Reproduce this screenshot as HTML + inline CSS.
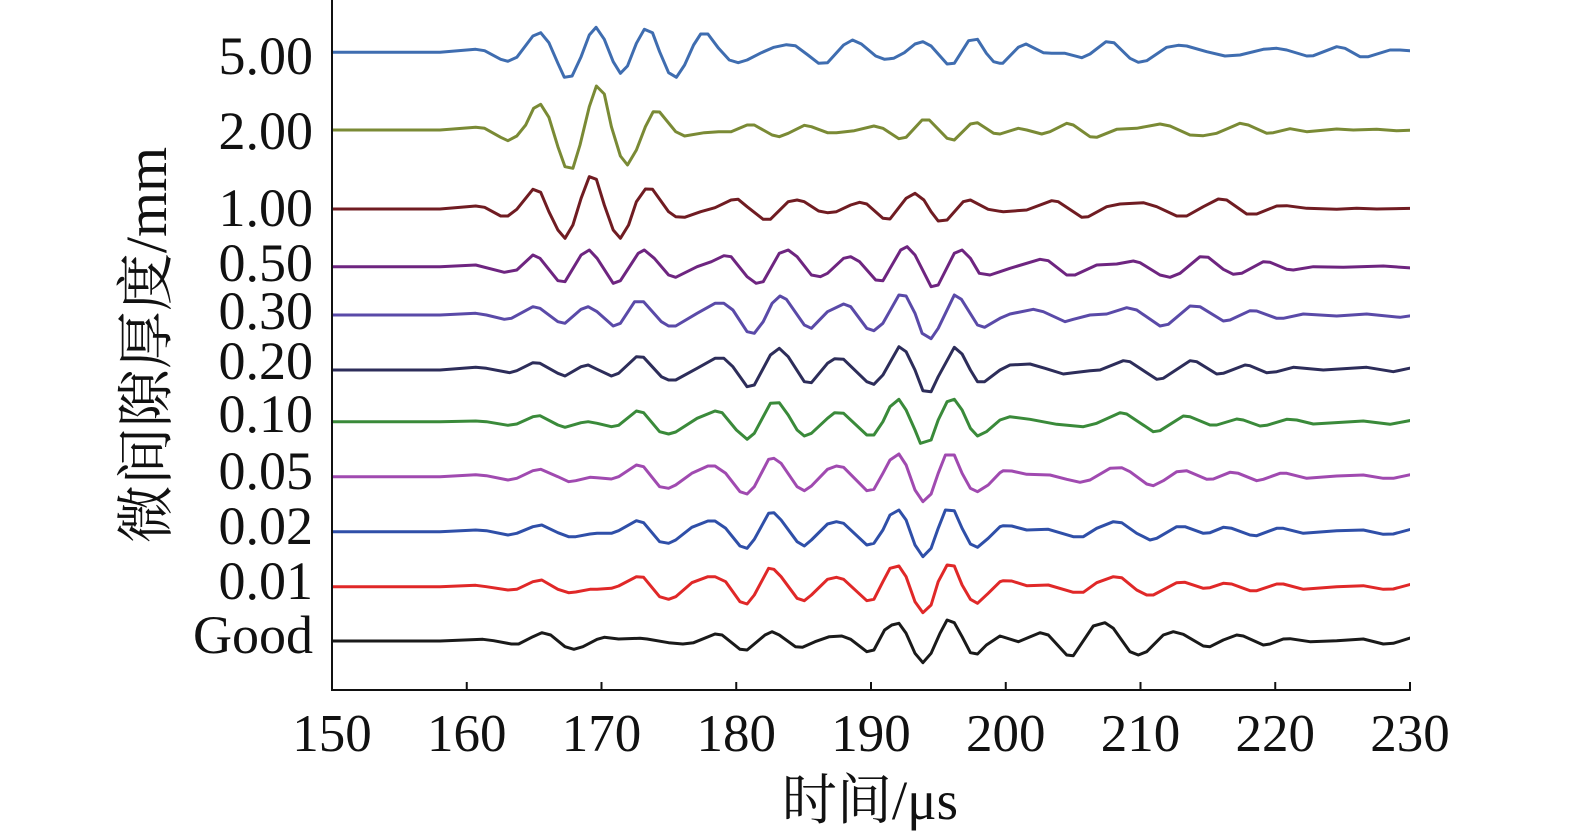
<!DOCTYPE html>
<html><head><meta charset="utf-8"><style>
html,body{margin:0;padding:0;background:#fff;}
svg{display:block;}
text{font-family:"Liberation Serif","Noto Serif CJK SC",serif;fill:#111;}
</style></head><body>
<svg id="s" width="1575" height="838" viewBox="0 0 1575 838" xmlns="http://www.w3.org/2000/svg">
<defs><clipPath id="c"><rect x="332" y="0" width="1078" height="690"/></clipPath></defs>
<g id="lines" clip-path="url(#c)" fill="none" stroke-width="3" stroke-linejoin="round"></g>
<line x1="332" y1="0" x2="332" y2="691" stroke="#111" stroke-width="2"/>
<line x1="331" y1="690" x2="1411" y2="690" stroke="#111" stroke-width="2"/>
<g id="ticks" stroke="#111" stroke-width="2"></g>
<g font-size="54" text-anchor="end">
<text x="313" y="74">5.00</text>
<text x="313" y="149">2.00</text>
<text x="313" y="226">1.00</text>
<text x="313" y="281">0.50</text>
<text x="313" y="329">0.30</text>
<text x="313" y="379">0.20</text>
<text x="313" y="432">0.10</text>
<text x="313" y="489">0.05</text>
<text x="313" y="544">0.02</text>
<text x="313" y="599">0.01</text>
<text x="313" y="653">Good</text>
</g>
<g id="xl" font-size="53" text-anchor="middle"></g>
<text x="870" y="819" font-size="55" text-anchor="middle">时间/μs</text>
<text transform="translate(166,345) rotate(-90)" font-size="58" text-anchor="middle">微间隙厚度/mm</text>
</svg>
<script>
var M1=[
["#3f6db0",20,[[0,97],[100,88],[125,92],[170,118],[190,124],[215,112],[260,48],[282,38],[305,68],[330,130],[348,172],[370,168],[395,110],[418,45],[437,22],[460,58],[485,125],[505,160],[525,138],[550,70],[572,28],[595,38],[615,95],[640,158],[662,172],[685,135],[710,75],[730,42],[750,42],[780,85],[810,120],[835,128],[860,120],[900,98],[935,82],[970,74],[995,77],[1030,105],[1060,130],[1085,128],[1130,75],[1155,60],[1180,72],[1220,108],[1245,118],[1270,115],[1300,98],[1330,72],[1352,65],[1375,78],[1420,132],[1440,130],[1480,62],[1505,58],[1530,100],[1550,125],[1568,130]],
[[0,95],[15,120],[38,130],[85,82],[108,72],[160,98],[185,100],[225,100],[275,113],[300,102],[348,65],[372,68],[420,115],[445,127],[470,122],[530,82],[565,76],[590,78],[650,95],[705,108],[750,105],[820,88],[860,85],[890,90],[950,108],[970,107],[1040,80],[1065,85],[1110,110],[1135,110],[1200,90],[1230,90],[1280,94]]],
["#7a8a35",20,[[0,330],[100,322],[125,325],[170,352],[190,362],[215,348],[240,315],[262,265],[282,253],[305,292],[330,380],[350,440],[372,445],[392,375],[418,260],[438,198],[460,222],[480,320],[505,408],[525,435],[550,390],[575,320],[597,275],[615,276],[660,335],[685,348],[740,338],[780,335],[815,335],[860,315],[880,315],[930,345],[950,350],[975,340],[1020,316],[1040,320],[1085,338],[1110,338],[1160,332],[1215,318],[1240,325],[1285,356],[1305,352],[1350,300],[1370,300],[1420,355],[1440,360],[1485,312],[1505,308],[1550,340],[1568,342]],
[[0,330],[35,343],[85,325],[110,330],[155,342],[180,335],[230,310],[250,315],[300,350],[320,352],[380,328],[440,325],[510,312],[540,318],[600,345],[640,347],[680,340],[750,310],[775,315],[830,340],[850,338],[900,326],[950,335],[1040,327],[1090,330],[1160,328],[1220,332],[1280,330]]],
["#701c22",20,[[0,567],[100,558],[125,562],[170,588],[190,588],[215,568],[260,508],[282,517],[305,575],[330,630],[350,655],[372,615],[395,535],[418,470],[438,478],[460,555],[485,630],[505,655],[528,615],[550,545],[575,507],[595,508],[640,575],[660,590],[685,592],[730,575],[770,563],[815,540],[835,538],[860,560],[905,598],[925,598],[975,545],[1000,540],[1020,545],[1060,573],[1085,578],[1110,575],[1150,555],[1175,547],[1195,552],[1240,595],[1260,597],[1305,535],[1330,520],[1355,540],[1375,575],[1395,603],[1420,600],[1465,545],[1485,540],[1535,568],[1568,574]],
[[0,570],[40,575],[110,570],[185,542],[205,545],[275,592],[295,590],[350,560],[390,552],[460,548],[500,560],[560,588],[590,588],[640,560],[685,537],[710,540],[770,582],[800,582],[860,558],[890,557],[950,565],[1040,568],[1100,565],[1160,567],[1280,565]]],
["#6e2580",240,[[0,80],[100,75],[180,97],[215,90],[260,45],[280,55],[330,122],[350,125],[395,45],[418,30],[440,55],[485,130],[505,122],[555,40],[572,30],[600,55],[640,105],[660,112],[720,80],[760,65],[795,47],[815,50],[860,110],[885,130],[905,125],[950,40],[975,30],[1000,50],[1040,105],[1065,110],[1085,100],[1130,55],[1150,50],[1175,65],[1220,120],[1240,122],[1290,30],[1308,20],[1330,45],[1375,140],[1395,135],[1440,40],[1462,30],[1485,55],[1510,100],[1540,105],[1568,95]],
[[0,105],[60,85],[150,58],[175,62],[230,105],[255,105],[320,75],[380,72],[430,63],[450,68],[510,105],[540,112],[570,100],[630,50],[655,52],[700,88],[730,103],[755,100],[820,65],[840,67],[890,88],[910,90],[970,80],[1060,82],[1180,78],[1280,85]]],
["#5a4aa8",240,[[0,225],[100,220],[130,225],[180,238],[200,235],[260,200],[280,205],[330,245],[350,250],[395,208],[415,200],[440,215],[485,258],[505,250],[545,185],[570,185],[620,245],[640,258],[660,258],[720,220],[770,190],[795,190],[820,210],[860,275],[880,280],[905,245],[930,190],[952,168],[970,178],[1020,255],[1040,265],[1085,215],[1130,192],[1150,200],[1195,265],[1215,272],[1240,250],[1285,165],[1305,168],[1330,220],[1350,280],[1375,296],[1395,265],[1440,165],[1460,178],[1505,255],[1525,262],[1568,235]],
[[0,258],[60,222],[130,208],[160,215],[225,245],[250,238],[300,225],[350,222],[410,203],[440,210],[510,258],[535,253],[600,198],[630,200],[700,243],[720,240],[780,212],[800,213],[860,235],[880,235],[940,222],[1040,228],[1130,222],[1230,232],[1280,225]]],
["#2d2d5a",240,[[0,390],[100,382],[130,385],[195,398],[215,392],[260,368],[280,370],[330,400],[350,408],[395,380],[415,375],[440,388],[480,408],[500,400],[550,350],[570,352],[620,410],[640,420],[660,420],[720,385],[770,355],[795,355],[820,380],[860,440],[880,435],[925,345],[950,325],[975,350],[1020,425],[1040,428],[1085,370],[1105,356],[1130,358],[1195,425],[1215,433],[1240,405],[1285,320],[1305,335],[1330,390],[1352,452],[1375,455],[1395,410],[1440,322],[1462,342],[1485,390],[1505,425],[1525,425],[1568,390]],
[[0,420],[60,375],[120,372],[165,385],[220,402],[250,398],[300,392],[330,390],[400,362],[420,365],[500,418],[520,415],[600,362],[620,365],[680,402],[700,400],[765,375],[780,377],[830,398],[860,395],[910,382],[1000,390],[1130,382],[1210,395],[1280,380]]],
["#3a8a3a",240,[[0,545],[100,543],[130,545],[190,556],[215,552],[260,530],[280,527],[330,555],[350,562],[395,548],[415,545],[440,550],[480,560],[500,556],[550,513],[570,518],[615,575],[640,582],[660,576],[720,535],[770,513],[790,518],[830,570],[860,598],[880,580],[925,490],[950,488],[975,525],[1000,570],[1020,588],[1040,580],[1085,535],[1105,518],[1130,520],[1195,585],[1215,585],[1240,545],[1260,500],[1285,478],[1305,510],[1330,570],[1345,610],[1375,600],[1395,540],[1420,485],[1440,478],[1462,510],[1485,565],[1505,588],[1530,575],[1568,540]],
[[0,575],[60,530],[120,538],[200,553],[280,560],[320,550],[390,518],[410,522],[490,575],[510,572],[580,528],[600,530],[660,555],[680,555],[740,537],[760,540],[810,558],[830,556],[890,538],[920,540],[970,552],[1120,543],[1200,553],[1280,538]]],
["#a04ab0",440,[[0,110],[100,104],[130,107],[190,120],[215,115],[260,92],[282,88],[330,110],[360,125],[380,122],[420,112],[440,113],[480,117],[500,110],[550,75],[570,80],[615,140],[640,145],[660,135],[705,100],[750,78],[770,78],[800,100],[840,155],[860,162],[880,140],[920,58],[935,55],[955,70],[1000,140],[1020,152],[1040,138],[1085,88],[1110,78],[1130,82],[1195,152],[1215,148],[1240,100],[1260,60],[1285,42],[1305,75],[1330,150],[1352,185],[1375,162],[1395,100],[1415,45],[1440,45],[1462,100],[1485,145],[1505,155],[1535,135],[1568,98]],
[[0,130],[40,92],[65,93],[110,103],[180,105],[230,118],[270,127],[300,120],[360,85],[395,83],[420,95],[470,132],[490,137],[520,122],[560,95],[590,92],[650,118],[670,117],[720,97],[745,100],[800,122],[820,118],[870,100],[890,100],[950,115],[1040,108],[1120,105],[1180,115],[1210,115],[1280,100]]],
["#2f4fa8",440,[[0,275],[100,270],[130,272],[190,285],[215,280],[260,260],[285,255],[330,278],[360,290],[380,290],[420,282],[440,280],[480,280],[500,272],[550,242],[570,248],[615,305],[640,310],[660,300],[705,262],[750,243],[770,243],[800,265],[840,318],[860,325],[880,298],[920,220],[935,218],[955,240],[1000,305],[1020,318],[1040,300],[1085,252],[1110,245],[1130,250],[1195,315],[1215,310],[1240,270],[1260,225],[1285,210],[1305,240],[1330,315],[1352,350],[1375,325],[1395,265],[1415,210],[1440,212],[1462,265],[1485,312],[1505,322],[1535,295],[1568,260]],
[[0,293],[40,257],[65,258],[110,270],[175,268],[250,290],[280,290],[320,265],[370,245],[395,248],[440,280],[480,300],[500,295],[560,260],[585,260],[640,280],[660,278],[700,262],[725,265],[780,285],[800,287],[860,265],[880,265],[940,280],[1040,272],[1120,270],[1180,283],[1210,282],[1280,263]]],
["#e02828",440,[[0,440],[100,436],[130,440],[190,450],[215,448],[260,425],[285,420],[330,448],[360,458],[380,456],[420,448],[440,448],[480,445],[500,438],[550,410],[570,412],[615,470],[640,478],[660,470],[705,428],[750,410],[770,410],[800,425],[840,485],[860,492],[880,465],[920,385],[935,388],[955,410],[1000,475],[1020,482],[1040,465],[1085,418],[1110,412],[1130,418],[1195,482],[1215,478],[1240,425],[1260,385],[1285,378],[1305,410],[1330,485],[1352,518],[1375,495],[1395,425],[1420,375],[1440,378],[1462,435],[1485,478],[1505,490],[1535,460],[1568,425]],
[[0,460],[40,422],[65,423],[110,437],[175,435],[250,457],[280,457],[320,428],[370,410],[395,413],[440,450],[470,465],[490,465],[560,428],[585,427],[640,445],[660,443],[700,430],[725,432],[780,452],[800,452],[860,432],[880,432],[940,448],[1040,440],[1120,437],[1180,448],[1210,447],[1280,428]]],
["#1a1a1a",440,[[0,603],[120,598],[150,602],[200,612],[220,612],[260,590],[285,578],[310,585],[350,620],[375,628],[400,620],[440,598],[460,592],[500,597],[560,595],[580,597],[640,608],[680,612],[710,608],[770,582],[790,585],[840,628],[860,630],[880,612],[910,585],[930,575],[950,585],[995,620],[1015,622],[1050,605],[1090,590],[1125,588],[1150,598],[1195,635],[1215,630],[1245,570],[1265,555],[1285,550],[1305,580],[1330,640],[1352,668],[1375,640],[1400,580],[1420,540],[1440,548],[1462,590],[1485,638],[1505,642],[1530,615],[1568,588]],
[[0,605],[35,585],[85,605],[150,578],[175,585],[230,645],[250,647],[310,558],[345,548],[370,565],[420,635],[445,645],[470,635],[520,585],[550,575],[580,583],[640,618],[660,620],[700,600],[740,585],[760,588],[820,615],[840,612],[880,597],[900,596],[960,605],[1040,602],[1120,597],[1180,612],[1210,610],[1280,588]]]
];
var g=document.getElementById('lines'),ns="http://www.w3.org/2000/svg";
M1.forEach(function(r){
  var oy=r[1],pts=[];
  r[2].forEach(function(p){pts.push([440+p[0]/2.8,oy+p[1]/3]);});
  pts.unshift([330,pts[0][1]]);
  var last=pts[pts.length-1][0];
  r[3].forEach(function(p){var x=990+p[0]*(420/1260);if(x>last+2)pts.push([x,oy+p[1]/3]);});
  var pl=document.createElementNS(ns,'polyline');
  pl.setAttribute('points',pts.map(function(p){return p[0].toFixed(1)+','+p[1].toFixed(1);}).join(' '));
  pl.setAttribute('stroke',r[0]);
  g.appendChild(pl);
});
var t=document.getElementById('ticks'),xl=document.getElementById('xl');
for(var i=0;i<=8;i++){
  var x=332+i*134.75;
  var l=document.createElementNS(ns,'line');
  l.setAttribute('x1',x);l.setAttribute('x2',x);l.setAttribute('y1',682);l.setAttribute('y2',690);
  t.appendChild(l);
  var tx=document.createElementNS(ns,'text');
  tx.setAttribute('x',x);tx.setAttribute('y',751);tx.textContent=150+i*10;
  xl.appendChild(tx);
}
</script>
</body></html>
